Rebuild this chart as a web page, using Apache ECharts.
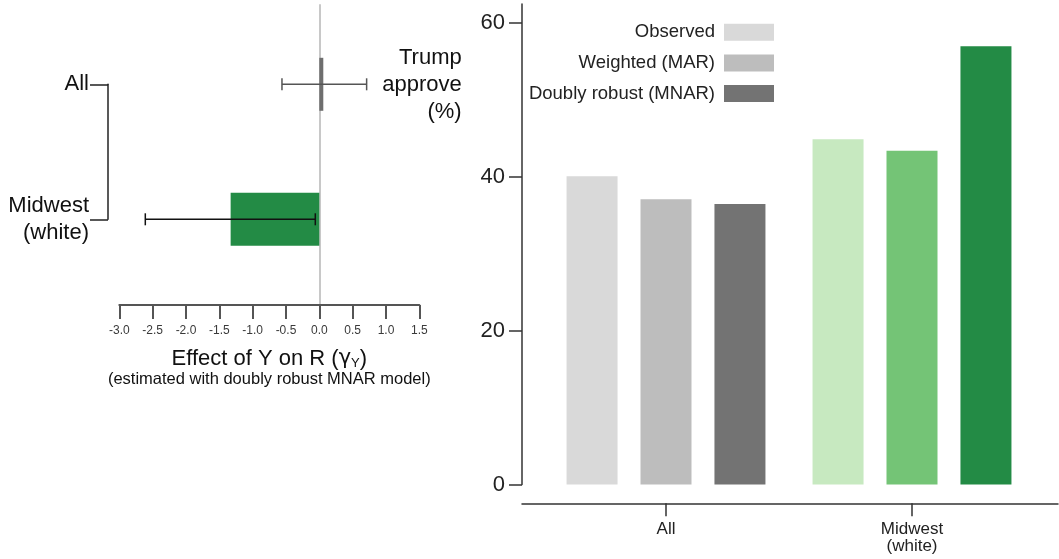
<!DOCTYPE html>
<html>
<head>
<meta charset="utf-8">
<script src="https://cdn.jsdelivr.net/npm/echarts@6/dist/echarts.min.js"></script>
<style>
html,body{margin:0;padding:0;background:#fff;}
#chart{width:1059px;height:559px;}
</style>
</head>
<body>
<div id="chart"></div>
<script>
// ---- Left panel data: effect of Y on R ----
const leftCategories = ['Midwest\n(white)', 'All'];
const effectValues = [-1.33, 0.06];
const effectLow = [-2.61, -0.56];
const effectHigh = [-0.06, 0.71];
const effectMin = -3.0;
const effectMax = 1.5;
const effectStep = 0.5;

// ---- Right panel data: Trump approve (%) ----
const rightCategories = ['All', 'Midwest\n(white)'];
const seriesNames = ['Observed', 'Weighted (MAR)', 'Doubly robust (MNAR)'];
const observed = [40.1, 44.9];
const weighted = [37.1, 43.4];
const doublyRobust = [36.5, 57.0];
const approveTicks = [0, 20, 40, 60];

// ---- styles ----
const FONT = '"Liberation Sans", Arial, Helvetica, sans-serif';
const greyShades = ['#d9d9d9', '#bdbdbd', '#737373'];
const greenShades = ['#c7e9c0', '#74c476', '#238b45'];
const leftBarColors = ['#238b45', '#6e6e6e'];
const leftErrColors = ['#111111', '#555555'];

const chart = echarts.init(document.getElementById('chart'), null, {renderer: 'canvas'});

function barSeries(idx, values) {
  return {
    name: seriesNames[idx],
    type: 'bar',
    xAxisIndex: 2,
    yAxisIndex: 2,
    barWidth: 51,
    barGap: '45%',
    itemStyle: {color: greyShades[idx]},
    data: values.map((v, i) => i === 0 ? v : {value: v, itemStyle: {color: greenShades[idx]}})
  };
}

const option = {
  animation: false,
  backgroundColor: '#ffffff',
  textStyle: {fontFamily: FONT},
  title: {
    text: 'Trump\napprove\n(%)',
    left: 461.7,
    top: 45,
    padding: 0,
    textAlign: 'right',
    textStyle: {fontSize: 22, lineHeight: 26.7, fontWeight: 'normal', color: '#111', fontFamily: FONT}
  },
  legend: {
    data: seriesNames,
    orient: 'vertical',
    right: 285,
    top: 22.7,
    padding: 0,
    align: 'right',
    icon: 'rect',
    itemWidth: 50,
    itemHeight: 17,
    itemGap: 11.7,
    textStyle: {fontSize: 18.5, color: '#222', fontFamily: FONT, padding: [0, 4, 0, 0]}
  },
  grid: [
    {left: 119.3, width: 300, top: 84.3, height: 135},
    {left: 119.3, width: 300, top: 5, height: 300},
    {left: 543, width: 492, top: 4, height: 480.5},
    {left: 522, width: 536, top: 4, height: 499.3}
  ],
  xAxis: [
    {gridIndex: 0, type: 'value', min: effectMin, max: effectMax, show: false},
    {
      gridIndex: 1, type: 'value', min: effectMin, max: effectMax, interval: effectStep,
      axisLine: {show: true, onZero: false, lineStyle: {color: '#555', width: 2}},
      axisTick: {show: true, length: 14, lineStyle: {color: '#555', width: 2}},
      axisLabel: {margin: 20, fontSize: 12, color: '#3a3a3a', formatter: v => v.toFixed(1)},
      splitLine: {show: false},
      name: '{a|Effect of Y on R (}{g|γ}{s|Y}{a|)}\n{b|(estimated with doubly robust MNAR model)}',
      nameLocation: 'middle',
      nameGap: 42,
      nameTextStyle: {
        color: '#111',
        rich: {
          a: {fontSize: 22, lineHeight: 23, color: '#111', fontFamily: FONT},
          g: {fontSize: 21, lineHeight: 23, color: '#111', fontFamily: '"DejaVu Sans", sans-serif'},
          s: {fontSize: 13, lineHeight: 13, color: '#111', fontFamily: FONT, verticalAlign: 'bottom'},
          b: {fontSize: 16.5, lineHeight: 18, color: '#111', fontFamily: FONT}
        }
      }
    },
    {
      gridIndex: 2, type: 'category', data: rightCategories, offset: 18.8,
      axisLine: {show: false, onZero: false},
      axisTick: {show: true, alignWithLabel: true, length: 13, lineStyle: {color: '#333', width: 1.5}},
      axisLabel: {margin: 17.5, fontSize: 17, lineHeight: 17, color: '#222'}
    },
    {
      gridIndex: 3, type: 'value', min: 0, max: 1,
      axisLine: {show: true, onZero: false, lineStyle: {color: '#333', width: 1.5}},
      axisTick: {show: false}, axisLabel: {show: false}, splitLine: {show: false}
    }
  ],
  yAxis: [
    {
      gridIndex: 0, type: 'category', data: leftCategories, boundaryGap: false, offset: 11.3,
      axisLine: {show: true, onZero: false, lineStyle: {color: '#222', width: 1.5}},
      axisTick: {show: true, length: 18, lineStyle: {color: '#222', width: 1.5}},
      axisLabel: {margin: 19, fontSize: 22, lineHeight: 26.7, color: '#111'}
    },
    {
      gridIndex: 1, type: 'value', min: 0, max: 1,
      axisLine: {show: true, onZero: true, lineStyle: {color: '#c8c8c8', width: 2}},
      axisTick: {show: false}, axisLabel: {show: false}, splitLine: {show: false}
    },
    {
      gridIndex: 2, type: 'value', min: 0, max: 62.5, interval: 20, offset: 21,
      axisLine: {show: true, onZero: false, lineStyle: {color: '#333', width: 1.5}},
      axisTick: {show: true, length: 13, customValues: approveTicks, lineStyle: {color: '#333', width: 1.5}},
      axisLabel: {customValues: approveTicks, margin: 17, fontSize: 22, color: '#222'},
      splitLine: {show: false}
    },
    {gridIndex: 3, type: 'value', show: false}
  ],
  series: [
    {
      type: 'bar',
      xAxisIndex: 0,
      yAxisIndex: 0,
      barWidth: 53,
      z: 2,
      itemStyle: {color: p => leftBarColors[p.dataIndex]},
      data: effectValues
    },
    {
      type: 'custom',
      xAxisIndex: 0,
      yAxisIndex: 0,
      z: 5,
      dimensions: ['cat', 'lo', 'hi'],
      encode: {y: 0, x: [1, 2]},
      data: effectLow.map((lo, i) => [i, lo, effectHigh[i]]),
      renderItem: function (params, api) {
        const c = api.value(0);
        const a = api.coord([api.value(1), c]);
        const b = api.coord([api.value(2), c]);
        const cap = 6;
        const st = {stroke: leftErrColors[params.dataIndex], lineWidth: 1.5};
        return {
          type: 'group',
          children: [
            {type: 'line', shape: {x1: a[0], y1: a[1], x2: b[0], y2: b[1]}, style: st},
            {type: 'line', shape: {x1: a[0], y1: a[1] - cap, x2: a[0], y2: a[1] + cap}, style: st},
            {type: 'line', shape: {x1: b[0], y1: b[1] - cap, x2: b[0], y2: b[1] + cap}, style: st}
          ]
        };
      }
    },
    barSeries(0, observed),
    barSeries(1, weighted),
    barSeries(2, doublyRobust)
  ]
};
chart.setOption(option);
</script>
</body>
</html>
